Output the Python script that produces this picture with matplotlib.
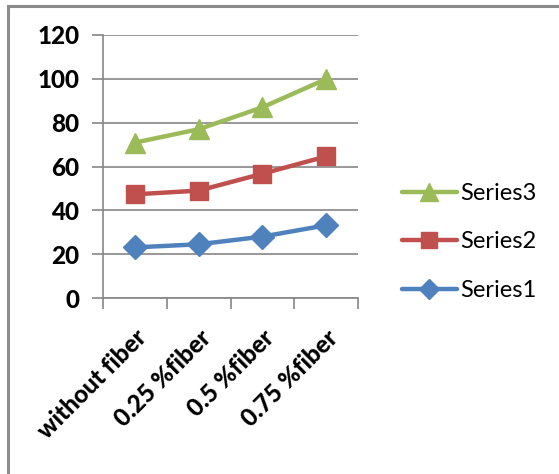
import matplotlib
matplotlib.use("Agg")
import matplotlib.pyplot as plt
from matplotlib.lines import Line2D
from matplotlib.transforms import ScaledTranslation

categories = ["without fiber", "0.25 %fiber", "0.5 %fiber", "0.75 %fiber"]
series1 = [23.1, 24.5, 28.0, 33.2]
series2 = [47.3, 49.0, 56.7, 64.6]
series3 = [70.9, 77.0, 87.0, 99.9]
yticks = [0, 20, 40, 60, 80, 100, 120]

W, H = 559, 474
fig = plt.figure(figsize=(W / 100, H / 100), dpi=100)
fig.patch.set_facecolor("white")

tick_font = {"family": "Lato", "weight": 900, "size": 17.5}

# plot area in pixel coordinates
x0, x1 = 103, 358
y0, y1 = 298, 35
ax = fig.add_axes([x0 / W, 1 - y0 / H, (x1 - x0) / W, (y0 - y1) / H])

grid_c = "#868686"
ax.set_ylim(0, 120)
ax.set_xlim(-0.5, len(categories) - 0.5)
ax.set_yticks(yticks)
ax.set_yticklabels([str(v) for v in yticks], fontdict=tick_font)
ax.yaxis.grid(True, color=grid_c, linewidth=1.2)
ax.set_axisbelow(True)

ax.set_xticks([i - 0.5 for i in range(len(categories) + 1)])
ax.set_xticklabels([])
ax.set_xticks(range(len(categories)), minor=True)
ax.set_xticklabels(categories, minor=True, rotation=45, ha="right",
                   rotation_mode="anchor", fontdict=tick_font)
shift = ScaledTranslation(-10 / 100, -6 / 100, fig.dpi_scale_trans)
for lbl in ax.get_xticklabels(minor=True):
    lbl.set_transform(lbl.get_transform() + shift)
ax.tick_params(axis="x", which="minor", length=0, pad=20)
ax.tick_params(axis="x", which="major", length=8, width=1.2, color=grid_c)
ax.tick_params(axis="y", length=8, width=1.2, color=grid_c, pad=9)

for s in ["top", "right"]:
    ax.spines[s].set_visible(False)
for s in ["left", "bottom"]:
    ax.spines[s].set_color(grid_c)
    ax.spines[s].set_linewidth(1.2)

x = list(range(len(categories)))
styles = [
    ("Series1", series1, "#4F81BD", "D", 12),
    ("Series2", series2, "#C0504D", "s", 13.5),
    ("Series3", series3, "#9BBB59", "^", 15),
]
for name, vals, col, mk, ms in styles:
    ax.plot(x, vals, color=col, linewidth=3.2, marker=mk, markersize=ms,
            markeredgecolor=col, solid_capstyle="round", label=name, zorder=3)

handles = [Line2D([0], [0], color=c, linewidth=3.2, marker=m, markersize=ms - 1.5,
                  markeredgecolor=c, solid_capstyle="round")
           for _, _, c, m, ms in styles][::-1]
labels = [n for n, _, _, _, _ in styles][::-1]
fig.legend(handles, labels, loc="center left",
           bbox_to_anchor=(381 / W, 1 - 242 / H), frameon=False,
           prop={"family": "Lato", "size": 17}, handlelength=2.3,
           handletextpad=0.15, labelspacing=1.17)

# chart frame
fig.add_artist(Line2D([8 / W, 8 / W], [0, 1 - 6 / H], color="#8C8C8C",
                      linewidth=2.2, transform=fig.transFigure))
fig.add_artist(Line2D([8 / W, 1], [1 - 6 / H, 1 - 6 / H], color="#8C8C8C",
                      linewidth=2.2, transform=fig.transFigure))

fig.savefig("out.png", dpi=100, facecolor="white")
